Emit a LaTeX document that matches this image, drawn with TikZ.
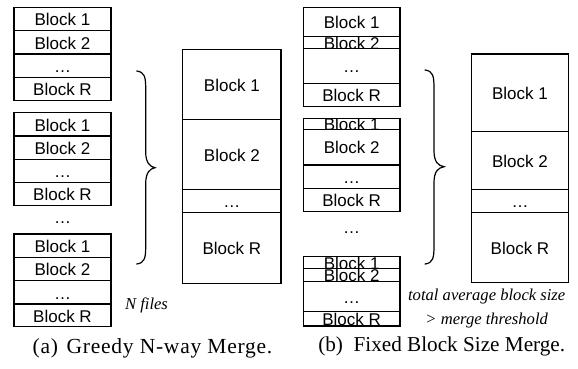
\documentclass[tikz,border=0pt]{standalone}
\usepackage{fontspec}
\newfontfamily\arialf{Liberation Sans}
\newfontfamily\serf{Liberation Serif}
\newfontfamily\serfcapa[LetterSpace=3.5]{Liberation Serif}
\tikzset{
  x=1pt, y=-1pt,
  blk/.style={draw, line width=1.2pt, rectangle, inner sep=0pt, outer sep=0pt},
  lbl/.style={font=\arialf\fontsize{17}{20}\selectfont, inner sep=0pt,
              text height=12.2pt, text depth=0pt, yshift=-0.6pt},
  note/.style={font=\serf\itshape\fontsize{16.6}{19}\selectfont, inner sep=0pt},
  captxta/.style={font=\serfcapa\fontsize{21.5}{24}\selectfont, inner sep=0pt},
  captxtb/.style={font=\serf\fontsize{21.2}{24}\selectfont, inner sep=0pt},
  brc/.style={line width=1.2pt, line cap=round}
}
% \blk{name}{x1}{y1}{x2}{y2}{text}
\newcommand\blk[6]{%
  \node[blk, minimum width={#4-#2}, minimum height={#5-#3},
        path picture={\node[lbl] at (path picture bounding box.center) {#6};}]
        (#1) at ({(#2+#4)/2},{(#3+#5)/2}) {};}
% \stk{prefix}{x1}{x2}{y0}{y1}{y2}{y3}{y4}
\newcommand\stk[8]{%
  \blk{#1a}{#2}{#4}{#3}{#5}{Block 1}
  \blk{#1b}{#2}{#5}{#3}{#6}{Block 2}
  \blk{#1c}{#2}{#6}{#3}{#7}{…}
  \blk{#1d}{#2}{#7}{#3}{#8}{Block R}}
% \mybrace{name}{xleft}{xstem}{xtip}{ytop}{ytip}{ybot}
\newcommand\mybrace[7]{%
  \coordinate (#1t) at (#2,#5);
  \coordinate (#1m) at (#4,#6);
  \coordinate (#1b) at (#2,#7);
  \draw[brc] (#1t) .. controls ({#3-1},{#5+1}) and (#3,{#5+6}) .. (#3,{#5+18})
    -- (#3,{#6-16}) .. controls (#3,{#6-5}) and ({#3+4},{#6-1}) .. (#1m)
    .. controls ({#3+4},{#6+1}) and (#3,{#6+5}) .. (#3,{#6+16})
    -- (#3,{#7-18}) .. controls (#3,{#7-6}) and ({#3-1},{#7-1}) .. (#1b);}
\begin{document}
\begin{tikzpicture}
\useasboundingbox (0,0) rectangle (578,368);
% ---- panel (a)
\stk{a1}{14}{111}{7.3}{30.7}{54}{77.3}{100.7}
\stk{a2}{14}{111}{112.7}{136}{159.3}{182.7}{205.3}
\node[lbl] (adots) at (62.5,217) {…};
\stk{a3}{14}{111}{234}{257.3}{280.7}{304}{326.7}
\stk{am}{182.7}{281}{49.3}{119.3}{189.3}{212.7}{283.3}
\mybrace{abr}{136.7}{145.7}{155}{71}{167.7}{264}
\node[note] (nfiles) at (146.5,305) {N files};
\node[captxta] (capa) at (152.5,348) {(a)\hspace{0.4em}Greedy N-way Merge.};
% ---- panel (b)
\stk{b1}{303.3}{400}{7.3}{36.7}{48.3}{83.3}{106.7}
\stk{b2}{303.3}{400}{118.7}{129.3}{165}{188.3}{211.7}
\node[lbl] (bdots) at (351.7,227) {…};
\stk{b3}{303.3}{400}{256.7}{268.7}{281.7}{311.7}{326}
\stk{bm}{471.7}{568.3}{54}{131.7}{189.3}{212.7}{282.7}
\mybrace{bbr}{425}{434}{444}{70}{166.7}{264}
\node[note] (tot) at (486.7,296.7) {total average block size};
\node[note] (thr) at (486.7,320) {> merge threshold};
\node[captxtb] (capb) at (441.7,346.7) {(b)\hspace{0.5em}Fixed Block Size Merge.};
\end{tikzpicture}
\end{document}
